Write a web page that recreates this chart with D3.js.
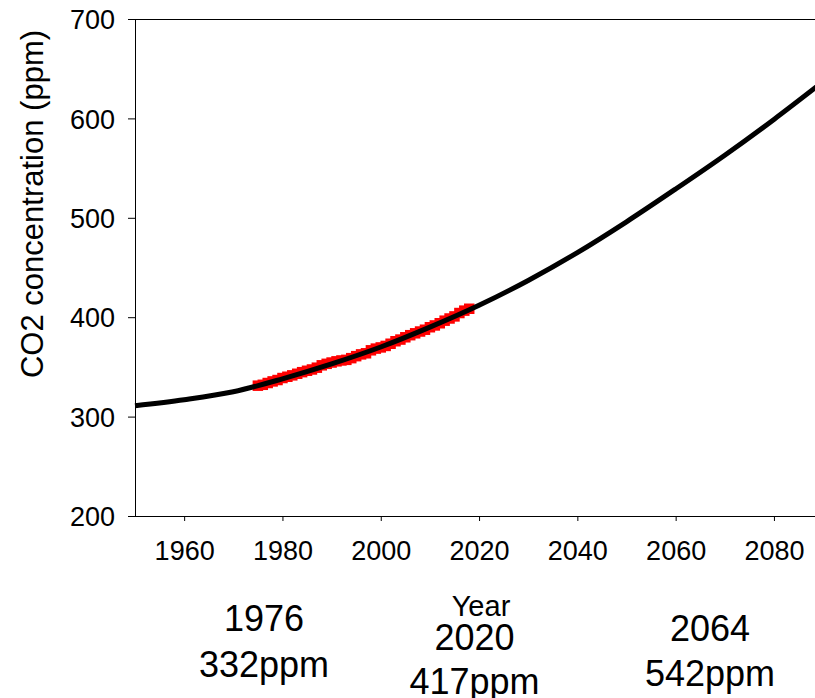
<!DOCTYPE html>
<html>
<head>
<meta charset="utf-8">
<script src="https://cdn.jsdelivr.net/npm/d3@7"></script>
<style>
  html, body { margin: 0; padding: 0; background: #fff; }
  svg { display: block; }
  text { font-family: "Liberation Sans", Arial, sans-serif; fill: #000; }
</style>
</head>
<body>
<script>
// ---- data ----
const obsYears = [1975,1976,1977,1978,1979,1980,1981,1982,1983,1984,1985,1986,1987,1988,1989,
  1990,1991,1992,1993,1994,1995,1996,1997,1998,1999,2000,2001,2002,2003,2004,2005,2006,2007,
  2008,2009,2010,2011,2012,2013,2014,2015,2016,2017,2018];
const obsValues = [331.1,332.0,333.8,335.4,336.8,338.8,340.1,341.5,343.1,344.7,346.1,347.4,349.2,351.6,353.1,
  354.4,355.6,356.5,357.1,358.8,360.8,362.6,363.7,366.7,368.4,369.6,371.1,373.3,375.8,377.5,379.8,381.9,383.8,
  385.6,387.4,389.9,391.7,393.9,396.5,398.7,400.8,404.2,406.6,408.5];
const fitYears  = [1950,1960,1970,1980,1990,2000,2010,2020,2030,2040,2050,2060,2070,2080,2090];
const fitValues = [311,317,325,338,353,370,390,412,437,465,496,529,563,599,637];
const xTicks = [1960,1980,2000,2020,2040,2060,2080];
const yTicks = [200,300,400,500,600,700];
const noteYears = ["1976","2020","2064"];
const notePpm   = ["332ppm","417ppm","542ppm"];
const noteAt    = [1976,2020,2064];

// ---- layout ----
const W = 815, H = 698;
const svg = d3.select("body").append("svg").attr("width", W).attr("height", H);

const x = d3.scaleLinear().domain([1950, 2090]).range([135, 823.1]);
const y = d3.scaleLinear().domain([200, 700]).range([516, 19]);

// red observations
svg.append("g")
  .selectAll("path")
  .data(obsYears.map((yr, i) => [yr, obsValues[i]]))
  .join("path")
  .attr("d", d3.symbol().type(d3.symbolSquare).size(110))
  .attr("transform", d => `translate(${x(d[0])},${y(d[1])})`)
  .attr("fill", "#ff0000");

// black fitted curve
const line = d3.line().x(d => x(d[0])).y(d => y(d[1])).curve(d3.curveCatmullRom);
svg.append("path")
  .datum(fitYears.map((yr, i) => [yr, fitValues[i]]))
  .attr("d", line)
  .attr("fill", "none")
  .attr("stroke", "#000")
  .attr("stroke-width", 5);

// y axis
const yAxis = d3.axisLeft(y).tickValues(yTicks).tickFormat(d3.format("d"))
  .tickSize(7).tickPadding(13).tickSizeOuter(0);
const gy = svg.append("g").attr("transform", "translate(135,0)").call(yAxis);
gy.selectAll("text").attr("font-size", 27).attr("font-family", "Liberation Sans, Arial, sans-serif").attr("dy", "0.36em");
gy.selectAll("line, path").attr("stroke", "#000");

// x axis
const xAxis = d3.axisBottom(x).tickValues(xTicks).tickFormat(d3.format("d"))
  .tickSize(5).tickPadding(0).tickSizeOuter(0);
const gx = svg.append("g").attr("transform", "translate(0,516)").call(xAxis);
gx.select(".domain").remove();
gx.selectAll("text").attr("font-size", 27).attr("font-family", "Liberation Sans, Arial, sans-serif")
  .attr("dy", null).attr("y", 44);
gx.selectAll("line").attr("stroke", "#000");
svg.append("line").attr("x1", 128).attr("x2", W).attr("y1", 516.5).attr("y2", 516.5).attr("stroke", "#000");
// top frame line
svg.append("line").attr("x1", 128).attr("x2", W).attr("y1", 19.5).attr("y2", 19.5).attr("stroke", "#000");

// y title
svg.append("text")
  .attr("transform", "translate(43,204) rotate(-90)")
  .attr("text-anchor", "middle")
  .attr("font-size", 31)
  .text("CO2 concentration (ppm)");

// x title
svg.append("text").attr("x", 481).attr("y", 616).attr("text-anchor", "middle")
  .attr("font-size", 29).text("Year");

// bottom annotations
const noteX = [264, 474.5, 710];
const noteY1 = [631, 650, 641];
const noteY2 = [677, 694, 686];
noteAt.forEach((yr, i) => {
  svg.append("text").attr("x", noteX[i]).attr("y", noteY1[i]).attr("text-anchor", "middle")
    .attr("font-size", 36).text(noteYears[i]);
  svg.append("text").attr("x", noteX[i]).attr("y", noteY2[i]).attr("text-anchor", "middle")
    .attr("font-size", 36).text(notePpm[i]);
});
</script>
</body>
</html>
